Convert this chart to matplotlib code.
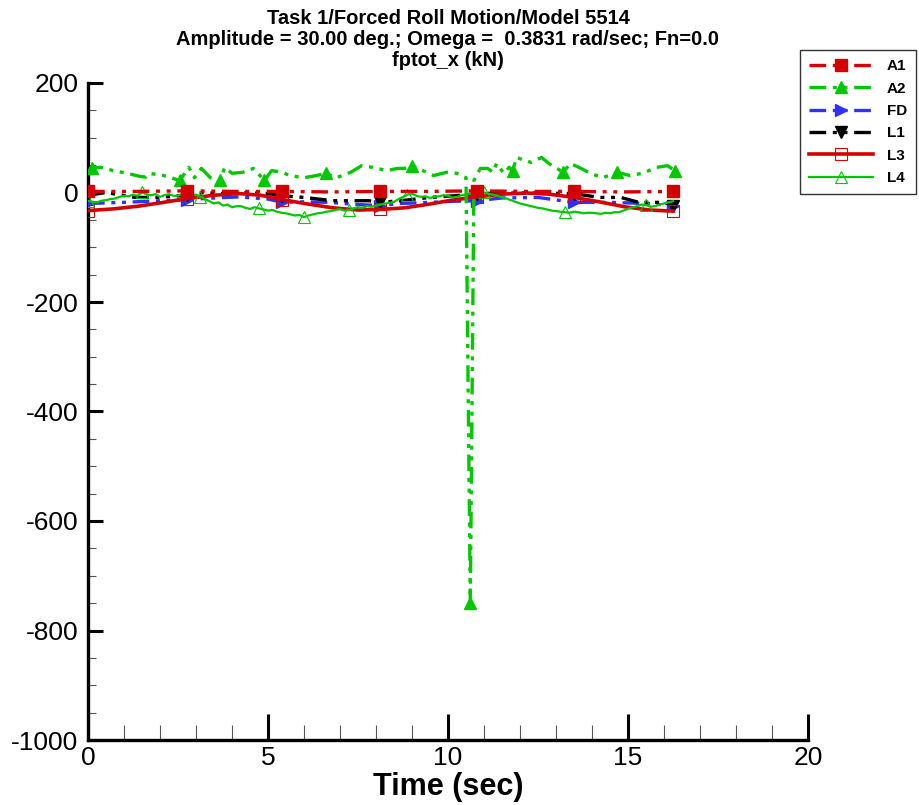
import matplotlib
matplotlib.use("Agg")
import matplotlib.pyplot as plt
import numpy as np

plt.rcParams['font.family'] = ['Liberation Sans', 'DejaVu Sans']
plt.rcParams['axes.unicode_minus'] = False

# --- data ---
t_a1 = [0, 1.35, 2.75, 4.1, 5.4, 6.75, 8.1, 9.45, 10.8, 12.15, 13.5, 14.85, 16.25]
a1 = [2, 2, 3, 2, 2, 1, 2, 2, 3, 2, 2, 1, 2]

t_a2 = [0.0, 0.1, 0.35, 0.7, 1.1, 1.4, 1.6, 1.7, 2.1, 2.55, 2.8, 2.96, 3.15, 3.4,
        3.66, 3.8, 4.0, 4.3, 4.6, 4.9, 5.1, 5.4, 5.6, 6.0, 6.35, 6.6, 6.9, 7.3,
        7.6, 7.9, 8.3, 8.6, 8.8, 9.0, 9.3, 9.6, 9.97, 10.25, 10.5, 10.62, 10.72,
        10.9, 11.1, 11.25, 11.35, 11.55, 11.7, 11.8, 11.9, 12.3, 12.6, 12.8, 13.2,
        13.4, 13.7, 13.95, 14.3, 14.7, 15.05, 15.4, 15.8, 16.1, 16.3]
a2 = [37, 44, 46, 40, 35, 30, 28, 35, 31, 22, 46, 27, 44, 27,
      22, 46, 35, 37, 44, 22, 40, 37, 31, 27, 31, 35, 27, 37,
      49, 46, 40, 44, 44, 49, 40, 31, 37, 35, 27, -750, 22,
      44, 44, 37, 53, 35, 46, 40, 64, 55, 64, 53, 37,
      53, 44, 35, 27, 37, 31, 35, 46, 49, 40]
a2_marks = [1, 9, 14, 19, 25, 33, 39, 47, 52, 57, 62]

t_fd = [0, 1.0, 2.0, 2.75, 3.5, 4.2, 5.0, 5.4, 6.0, 6.7, 7.5, 8.1, 8.7, 9.5,
        10.2, 10.8, 11.5, 12.5, 13.5, 14.5, 15.5, 16.25]
fd = [-20, -18, -15, -13, -10, -8, -12, -18, -17, -18, -22, -24, -20, -18,
      -16, -15, -10, -9, -18, -18, -20, -24]
fd_marks = [0, 3, 7, 11, 15, 18, 21]

t_l1 = [0, 0.5, 1.3, 1.9, 2.75, 3.2, 3.6, 4.2, 5.0, 5.4, 6.0, 6.8, 7.8, 8.1,
        8.7, 9.5, 10.4, 10.8, 11.5, 12.6, 13.5, 14.2, 14.8, 15.3, 16.0, 16.25]
l1 = [-5, 0, -9, -9, -5, 0, -2, 0, -2, -6, -9, -15, -15, -18,
      -15, -9, -5, -2, -1, -1, -2, -9, -9, -18, -18, -24]
l1_marks = [0, 4, 9, 13, 17, 20, 25]

t_l3 = [0, 0.7, 1.4, 2.1, 2.75, 3.5, 4.2, 4.8, 5.4, 6.1, 6.8, 7.5, 8.1, 8.8,
        9.5, 10.1, 10.8, 11.5, 12.2, 12.8, 13.5, 14.2, 14.9, 15.6, 16.25]
l3 = [-33, -30, -25, -18, -11, -5, -2, -5, -13, -21, -28, -32, -31, -28,
      -21, -14, -8, -3, -1, -3, -9, -17, -26, -32, -34]
l3_marks = [0, 4, 8, 12, 16, 20, 24]

t_l4 = [i * 0.125 for i in range(131)]
l4 = [-15, -17, -18, -15, -14, -12, -11, -8, -6, -7, -4, -6, 0, -3, -5, -3,
      -8, -5, -3, -6, -6, -2, -2, -5, -4, -8, -12, -16, -20, -18, -24, -22,
      -27, -25, -25, -28, -30, -27, -29, -31, -33, -32, -35, -37, -38, -40, -42, -41,
      -45, -42, -40, -38, -37, -35, -34, -32, -30, -33, -32, -29, -27, -28, -25, -26,
      -24, -22, -20, -19, -17, -12, -8, -4, -2, -6, -8, -7, -10, -8, -7, -5,
      -6, -9, -8, -5, -4, -3, -2, -4, 0, -2, -4, -6, -9, -11, -14, -17,
      -20, -22, -24, -26, -28, -29, -31, -33, -34, -35, -36, -37, -35, -36, -38, -37,
      -37, -38, -39, -37, -38, -36, -36, -33, -30, -27, -25, -22, -23, -26, -25, -22,
      -20, -18, -16]
l4_marks = [0, 12, 25, 38, 48, 58, 71, 88, 106, 124]

red = '#d40000'
green = '#00c800'
blue = '#3030ff'
dashdotdot = (0, (5, 2, 1.2, 2, 1.2, 2))

fig = plt.figure(figsize=(9.2, 8.05), dpi=100)
ax = fig.add_axes([88 / 920, 1 - 740 / 805, 720 / 920, 657 / 805])

ax.plot(t_a1, a1, color=red, lw=2.4, ls=dashdotdot, marker='s', ms=8,
        markevery=2, label='A1', zorder=5)
ax.plot(t_a2, a2, color=green, lw=2.4, ls=dashdotdot, marker='^', ms=9,
        markevery=a2_marks, label='A2', zorder=4)
ax.plot(t_fd, fd, color=blue, lw=2.4, ls=dashdotdot, marker='>', ms=8,
        markevery=fd_marks, label='FD', zorder=3)
ax.plot(t_l1, l1, color='black', lw=2.4, ls=dashdotdot, marker='v', ms=8,
        markevery=l1_marks, label='L1', zorder=3)
ax.plot(t_l3, l3, color=red, lw=2.6, marker='s', ms=9, mfc='none', mew=0.8,
        markevery=l3_marks, label='L3', zorder=3)
ax.plot(t_l4, l4, color=green, lw=1.6, marker='^', ms=9, mfc='none', mew=0.8,
        markevery=l4_marks, label='L4', zorder=3)

ax.set_xlim(0, 20)
ax.set_ylim(-1000, 200)
ax.set_xticks([0, 5, 10, 15, 20])
ax.set_xticks(np.arange(0, 21, 1), minor=True)
ax.set_yticks(np.arange(-1000, 201, 200))
ax.set_yticks(np.arange(-1000, 201, 50), minor=True)

for s in ['top', 'right']:
    ax.spines[s].set_visible(False)
for s in ['left', 'bottom']:
    ax.spines[s].set_linewidth(2.4)

ax.tick_params(axis='x', which='major', direction='in', length=19, width=2.2,
               labelsize=19, pad=4)
ax.tick_params(axis='x', which='minor', direction='in', length=11, width=0.8,
               color='#555555')
ax.tick_params(axis='y', which='major', direction='in', length=11, width=2.2,
               labelsize=19, pad=7)
ax.tick_params(axis='y', which='minor', direction='in', length=6, width=0.8,
               color='#555555')

ax.set_xlabel('Time (sec)', fontsize=22, fontweight='bold', labelpad=2)

fig.text(448 / 920, 1 - 9 / 805,
         'Task 1/Forced Roll Motion/Model 5514\n'
         'Amplitude = 30.00 deg.; Omega =  0.3831 rad/sec; Fn=0.0\n'
         'fptot_x (kN)',
         ha='center', va='top', fontsize=14.5, fontweight='bold',
         linespacing=1.12)

leg = ax.legend(loc='upper left', bbox_to_anchor=(800 / 920, 1 - 50 / 805),
                bbox_transform=fig.transFigure, frameon=True, fancybox=False,
                edgecolor='black', borderaxespad=0, handlelength=4.2,
                prop={'weight': 'bold', 'size': 11}, labelspacing=0.55,
                borderpad=0.6, handletextpad=0.9)
leg.get_frame().set_linewidth(1.0)

fig.savefig('out.png', dpi=100)
